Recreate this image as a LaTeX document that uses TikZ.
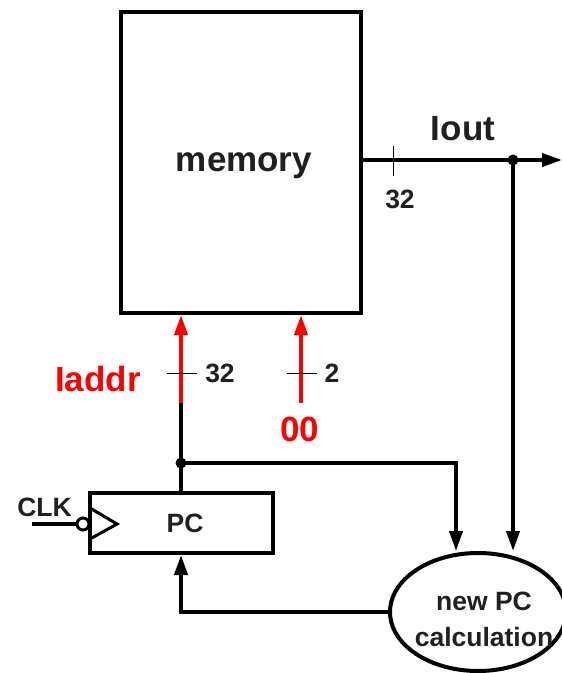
\documentclass[tikz,border=0pt]{standalone}
\usepackage{fontspec}
\setmainfont{Liberation Sans}
\usetikzlibrary{arrows.meta,shapes.geometric,calc}
\definecolor{txt}{HTML}{231F20}
\definecolor{wirered}{HTML}{FF0000}
\begin{document}
\begin{tikzpicture}[x=1pt,y=-1pt,
  wire/.style={line width=4pt},
  tickmark/.style={line width=1pt},
  arr/.style={-{Triangle[length=20pt,width=13pt]}},
  small/.style={font=\fontsize{26.5}{30}\selectfont\bfseries, text=txt},
  big/.style={font=\fontsize{35}{38}\selectfont\bfseries, text=txt},
  bigred/.style={font=\fontsize{35}{38}\selectfont\bfseries, text=wirered},
  box/.style={draw, line width=4pt, inner sep=0pt}
]
\useasboundingbox (0,0) rectangle (562,673);

% memory block
\node[box, minimum width=240pt, minimum height=301pt] (mem) at (241,162.5) {};
\node[big] (memlbl) at (244,166) {memory};

% PC register
\node[box, minimum width=183pt, minimum height=60pt] (pc) at (181.5,523) {};
\node[small] (pclbl) at (185,523) {PC};

% new PC calculation ellipse
\node[draw, line width=4pt, ellipse, minimum width=176pt, minimum height=118pt, inner sep=0pt] (calc) at (478,612) {};
\node[small, align=center, font=\fontsize{26.5}{36}\selectfont\bfseries] (calctext) at (484,619) {new PC\\calculation};

% output bus Iout
\coordinate (ioutend) at (562,160);
\coordinate (jout) at (513,160);
\draw[wire, arr] (mem.east |- ioutend) -- (ioutend);
\fill (jout) circle (5.5pt);
\draw[wire, arr] (jout) -- (jout |- calc.north);
\node[big] (ioutlbl) at (463,129) {Iout};
\coordinate (t1a) at (393,146);
\coordinate (t1b) at (393,176);
\draw[tickmark] (t1a) -- (t1b);
\node[small] (w1) at (400,199) {32};

% Iaddr bus
\coordinate (jpc) at (181,463);
\coordinate (redstart) at (181,403);
\draw[wire] (pc.north -| jpc) -- (redstart);
\draw[wire, wirered, arr] (redstart) -- (redstart |- mem.south);
\fill (jpc) circle (5.5pt);
\coordinate (t2a) at (167,373);
\coordinate (t2b) at (197,373);
\draw[tickmark] (t2a) -- (t2b);
\node[small] (w2) at (220,373) {32};
\node[bigred] (iaddrlbl) at (98,379) {Iaddr};

% 00 bits
\coordinate (zstart) at (301,403);
\draw[wire, wirered, arr] (zstart) -- (zstart |- mem.south);
\coordinate (t3a) at (287,373);
\coordinate (t3b) at (317,373);
\draw[tickmark] (t3a) -- (t3b);
\node[small] (w3) at (332,373) {2};
\node[bigred] (zlbl) at (300,429) {00};

% PC to new PC calculation
\coordinate (corner1) at (456,463);
\draw[wire, arr] (jpc) -- (corner1) -- (corner1 |- calc.north);

% feedback
\coordinate (corner2) at (181,612);
\draw[wire, arr] (calc.west) -- (corner2) -- (pc.south -| corner2);

% clock input
\coordinate (clka) at (90,508);
\coordinate (clkb) at (117,524);
\coordinate (clkc) at (90,539);
\draw[line width=3pt, line join=miter] (clka) -- (clkb) -- (clkc);
\node[draw, circle, line width=3pt, minimum size=12pt, inner sep=0pt, fill=white] (bubble) at (83,524) {};
\coordinate (clkin) at (32,524);
\draw[wire] (clkin) -- (bubble.west);
\node[small] (clklbl) at (44.5,507) {CLK};
\end{tikzpicture}
\end{document}
